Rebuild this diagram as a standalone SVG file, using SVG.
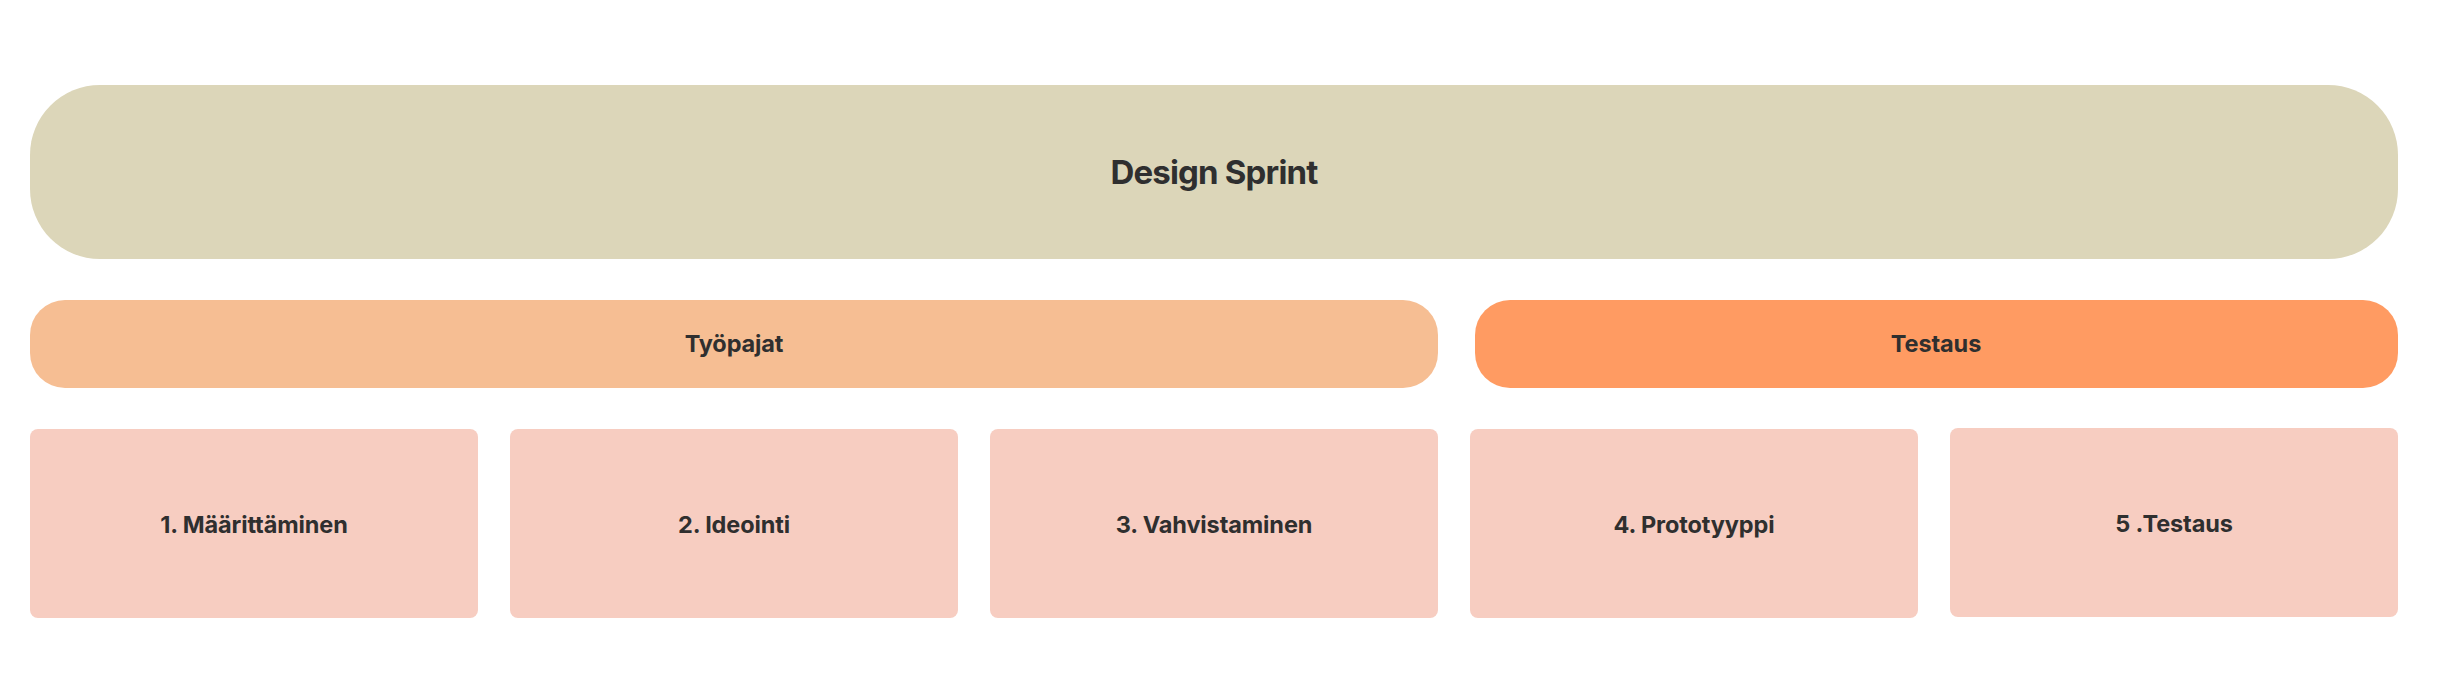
<svg xmlns="http://www.w3.org/2000/svg" width="2445" height="700" viewBox="0 0 2445 700">
<style>
text{font-family:Inter,"Noto Sans","Liberation Sans",sans-serif;font-weight:700;fill:#2f2f2f;text-anchor:middle}
.big{font-size:33px;letter-spacing:-0.025em}
.lbl{font-size:23.5px;letter-spacing:-0.005em}
.step{fill:#F7CDC1}
</style>
<rect width="2445" height="700" fill="#ffffff"/>
<g id="design-sprint">
<rect x="30" y="85" width="2368" height="174" rx="70" ry="70" fill="#DCD6B9"/>
<text class="big" x="1214" y="184">Design Sprint</text>
</g>
<g id="tyopajat">
<rect x="30" y="300" width="1408" height="88" rx="35" ry="35" fill="#F6BE93"/>
<text class="lbl" x="734" y="352">Työpajat</text>
</g>
<g id="testaus-group">
<rect x="1475" y="300" width="923" height="88" rx="35" ry="35" fill="#FF9B62"/>
<text class="lbl" x="1936" y="352">Testaus</text>
</g>
<g id="step1">
<rect class="step" x="30" y="429" width="448" height="189" rx="8"/>
<text class="lbl" x="254" y="533">1. Määrittäminen</text>
</g>
<g id="step2">
<rect class="step" x="510" y="429" width="448" height="189" rx="8"/>
<text class="lbl" x="734" y="533">2. Ideointi</text>
</g>
<g id="step3">
<rect class="step" x="990" y="429" width="448" height="189" rx="8"/>
<text class="lbl" x="1214" y="533">3. Vahvistaminen</text>
</g>
<g id="step4">
<rect class="step" x="1470" y="429" width="448" height="189" rx="8"/>
<text class="lbl" x="1694" y="533">4. Prototyyppi</text>
</g>
<g id="step5">
<rect class="step" x="1950" y="428" width="448" height="189" rx="8"/>
<text class="lbl" x="2174" y="532">5 .Testaus</text>
</g>
<g id="connectors"></g>
</svg>
